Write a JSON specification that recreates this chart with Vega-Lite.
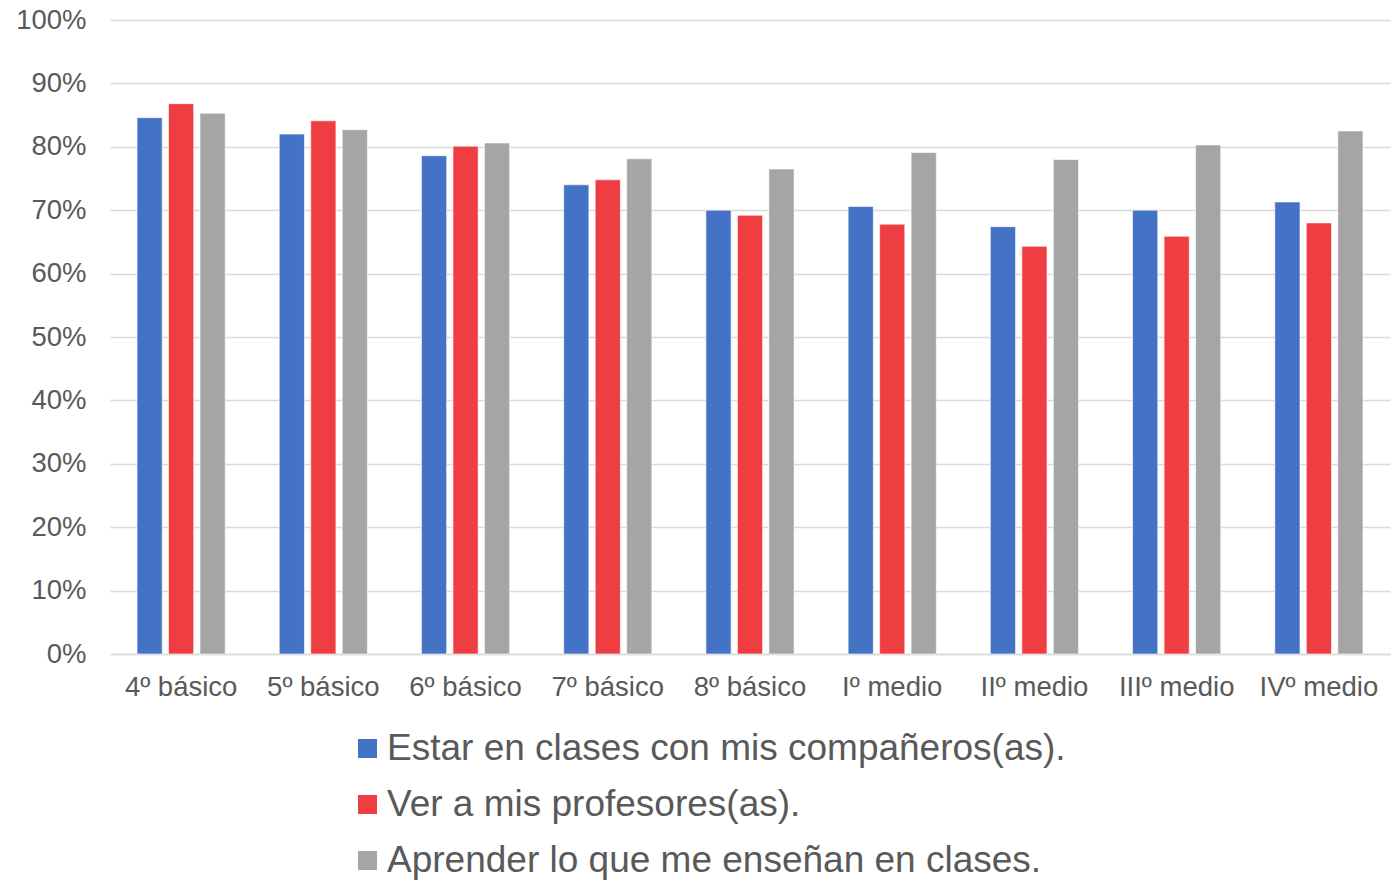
{
  "$schema": "https://vega.github.io/schema/vega-lite/v6.json",
  "width": 1280,
  "height": 634,
  "autosize": {"type": "none"},
  "padding": {"left": 110, "top": 20, "right": 8, "bottom": 228},
  "background": "white",
  "config": {
    "font": "Liberation Sans",
    "view": {"stroke": null}
  },
  "data": {
    "values": [
      {"curso": "4º básico", "serie": "Estar en clases con mis compañeros(as).", "valor": 0.846},
      {"curso": "4º básico", "serie": "Ver a mis profesores(as).", "valor": 0.868},
      {"curso": "4º básico", "serie": "Aprender lo que me enseñan en clases.", "valor": 0.853},
      {"curso": "5º básico", "serie": "Estar en clases con mis compañeros(as).", "valor": 0.820},
      {"curso": "5º básico", "serie": "Ver a mis profesores(as).", "valor": 0.841},
      {"curso": "5º básico", "serie": "Aprender lo que me enseñan en clases.", "valor": 0.827},
      {"curso": "6º básico", "serie": "Estar en clases con mis compañeros(as).", "valor": 0.786},
      {"curso": "6º básico", "serie": "Ver a mis profesores(as).", "valor": 0.801},
      {"curso": "6º básico", "serie": "Aprender lo que me enseñan en clases.", "valor": 0.806},
      {"curso": "7º básico", "serie": "Estar en clases con mis compañeros(as).", "valor": 0.740},
      {"curso": "7º básico", "serie": "Ver a mis profesores(as).", "valor": 0.748},
      {"curso": "7º básico", "serie": "Aprender lo que me enseñan en clases.", "valor": 0.781},
      {"curso": "8º básico", "serie": "Estar en clases con mis compañeros(as).", "valor": 0.700},
      {"curso": "8º básico", "serie": "Ver a mis profesores(as).", "valor": 0.692},
      {"curso": "8º básico", "serie": "Aprender lo que me enseñan en clases.", "valor": 0.765},
      {"curso": "Iº medio", "serie": "Estar en clases con mis compañeros(as).", "valor": 0.706},
      {"curso": "Iº medio", "serie": "Ver a mis profesores(as).", "valor": 0.678},
      {"curso": "Iº medio", "serie": "Aprender lo que me enseñan en clases.", "valor": 0.791},
      {"curso": "IIº medio", "serie": "Estar en clases con mis compañeros(as).", "valor": 0.674},
      {"curso": "IIº medio", "serie": "Ver a mis profesores(as).", "valor": 0.643},
      {"curso": "IIº medio", "serie": "Aprender lo que me enseñan en clases.", "valor": 0.780},
      {"curso": "IIIº medio", "serie": "Estar en clases con mis compañeros(as).", "valor": 0.700},
      {"curso": "IIIº medio", "serie": "Ver a mis profesores(as).", "valor": 0.659},
      {"curso": "IIIº medio", "serie": "Aprender lo que me enseñan en clases.", "valor": 0.803},
      {"curso": "IVº medio", "serie": "Estar en clases con mis compañeros(as).", "valor": 0.713},
      {"curso": "IVº medio", "serie": "Ver a mis profesores(as).", "valor": 0.680},
      {"curso": "IVº medio", "serie": "Aprender lo que me enseñan en clases.", "valor": 0.825}
    ]
  },
  "mark": {"type": "bar", "stroke": "white", "strokeOpacity": 0.6, "strokeWidth": 1},
  "encoding": {
    "x": {
      "field": "curso",
      "type": "nominal",
      "sort": ["4º básico", "5º básico", "6º básico", "7º básico", "8º básico", "Iº medio", "IIº medio", "IIIº medio", "IVº medio"],
      "scale": {"paddingInner": 0.38, "paddingOuter": 0.19},
      "axis": {
        "title": null,
        "labelAngle": 0,
        "labelFontSize": 27.5,
        "labelColor": "#595959",
        "labelPadding": 19,
        "ticks": false,
        "domain": true,
        "domainColor": "#d9d9d9",
        "domainWidth": 1.5
      }
    },
    "xOffset": {
      "field": "serie",
      "type": "nominal",
      "sort": ["Estar en clases con mis compañeros(as).", "Ver a mis profesores(as).", "Aprender lo que me enseñan en clases."],
      "scale": {"paddingInner": 0.2, "paddingOuter": 0}
    },
    "y": {
      "field": "valor",
      "type": "quantitative",
      "scale": {"domain": [0, 1]},
      "axis": {
        "title": null,
        "format": ".0%",
        "values": [0, 0.1, 0.2, 0.3, 0.4, 0.5, 0.6, 0.7, 0.8, 0.9, 1],
        "labelFontSize": 27.5,
        "labelColor": "#595959",
        "labelPadding": 24,
        "ticks": false,
        "domain": false,
        "grid": true,
        "gridColor": "#d9d9d9",
        "gridWidth": 1.5
      }
    },
    "color": {
      "field": "serie",
      "type": "nominal",
      "sort": ["Estar en clases con mis compañeros(as).", "Ver a mis profesores(as).", "Aprender lo que me enseñan en clases."],
      "scale": {
        "domain": ["Estar en clases con mis compañeros(as).", "Ver a mis profesores(as).", "Aprender lo que me enseñan en clases."],
        "range": ["#4472C4", "#EF3E42", "#A5A5A5"]
      },
      "legend": {
        "title": null,
        "orient": "none",
        "legendX": 239,
        "legendY": 710,
        "direction": "vertical",
        "symbolType": "square",
        "symbolSize": 361,
        "symbolStrokeWidth": 0,
        "labelFontSize": 37,
        "labelColor": "#595959",
        "labelOffset": 1,
        "labelLimit": 1000,
        "rowPadding": 18
      }
    }
  }
}
